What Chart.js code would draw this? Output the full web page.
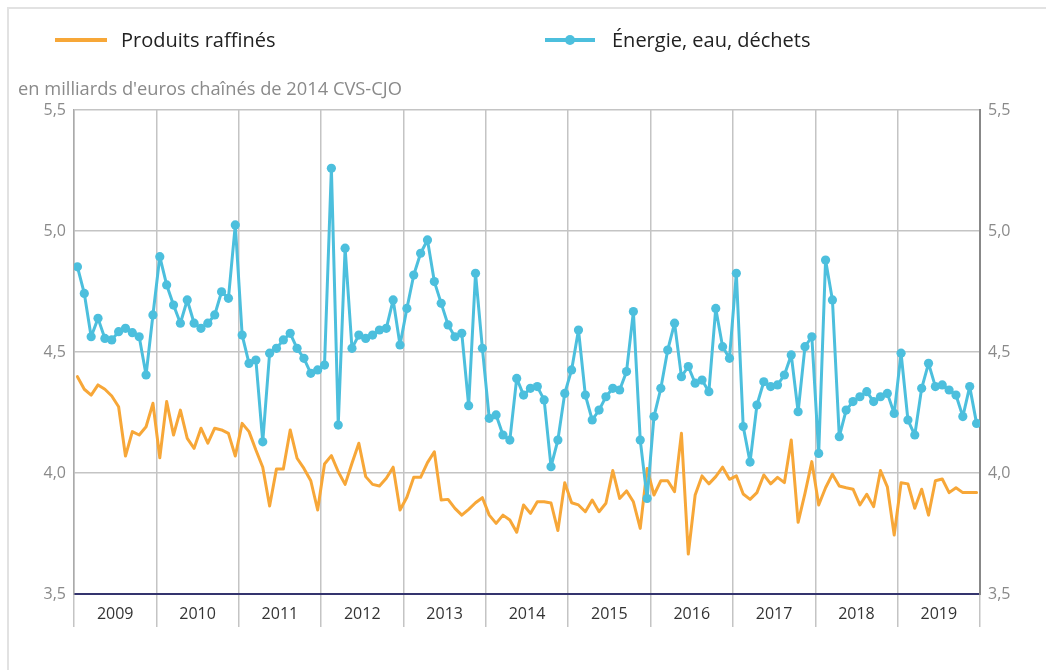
<!DOCTYPE html>
<html><head><meta charset="utf-8">
<script src="https://cdn.jsdelivr.net/npm/chart.js@4/dist/chart.umd.min.js"></script>
<style>
html,body{margin:0;padding:0;background:#fff;}
body{width:1046px;height:670px;position:relative;overflow:hidden;font-family:"Open Sans",sans-serif;}
#frame{position:absolute;left:7px;top:7px;width:1100px;height:700px;border-top:2px solid #e2e2e2;border-left:2px solid #e2e2e2;}
canvas{position:absolute;left:0;top:0;}
.legtxt{position:absolute;top:27px;height:26px;line-height:26px;font-size:20px;color:#222;white-space:nowrap;}
.legline{position:absolute;top:38px;height:4px;}
.legdot{position:absolute;top:35px;width:10px;height:10px;border-radius:50%;}
#ytitle{position:absolute;left:18px;top:76px;line-height:24px;font-size:18.3px;color:#8a8a8a;white-space:nowrap;}
</style></head>
<body>
<div id="frame"></div>
<canvas id="c" width="1046" height="670"></canvas>
<div class="legline" style="left:55px;width:52px;background:#f7a738"></div>
<div class="legtxt" style="left:121px">Produits raffinés</div>
<div class="legline" style="left:545px;width:50px;background:#4cbfdd"></div>
<div class="legdot" style="left:565px;background:#4cbfdd"></div>
<div class="legtxt" style="left:612px">Énergie, eau, déchets</div>
<div id="ytitle">en milliards d'euros chaînés de 2014 CVS-CJO</div>
<script>
const years = ['2009','2010','2011','2012','2013','2014','2015','2016','2017','2018','2019'];
const yTicks = [3.5, 4.0, 4.5, 5.0, 5.5];

const raffines = [
  4.398, 4.346, 4.322, 4.364, 4.346, 4.318, 4.274, 4.070, 4.171, 4.157, 4.191, 4.288,
  4.063, 4.295, 4.157, 4.260, 4.143, 4.102, 4.185, 4.123, 4.185, 4.178, 4.164, 4.070,
  4.205, 4.171, 4.095, 4.024, 3.864, 4.017, 4.017, 4.178, 4.061, 4.019, 3.968, 3.847,
  4.037, 4.072, 4.005, 3.953, 4.040, 4.123, 3.985, 3.953, 3.946, 3.978, 4.024, 3.847,
  3.900, 3.982, 3.982, 4.043, 4.088, 3.888, 3.891, 3.854, 3.826, 3.850, 3.877, 3.898,
  3.826, 3.792, 3.826, 3.806, 3.755, 3.868, 3.833, 3.881, 3.881, 3.876, 3.762, 3.960,
  3.877, 3.868, 3.840, 3.888, 3.840, 3.875, 4.010, 3.895, 3.926, 3.881, 3.771, 4.019,
  3.909, 3.968, 3.968, 3.923, 4.164, 3.665, 3.909, 3.988, 3.955, 3.985, 4.024, 3.974,
  3.988, 3.913, 3.891, 3.919, 3.992, 3.955, 3.982, 3.960, 4.136, 3.796, 3.916, 4.047,
  3.868, 3.939, 3.995, 3.946, 3.939, 3.933, 3.868, 3.912, 3.861, 4.010, 3.943, 3.744,
  3.960, 3.955, 3.854, 3.933, 3.826, 3.968, 3.975, 3.919, 3.939, 3.919, 3.919, 3.919
];

const energie = [
  4.852, 4.742, 4.563, 4.639, 4.556, 4.550, 4.584, 4.598, 4.580, 4.563, 4.405, 4.653,
  4.894, 4.777, 4.694, 4.619, 4.715, 4.619, 4.598, 4.619, 4.653, 4.749, 4.722, 5.025,
  4.570, 4.453, 4.467, 4.129, 4.495, 4.515, 4.550, 4.577, 4.515, 4.474, 4.412, 4.426,
  4.446, 5.259, 4.198, 4.929, 4.515, 4.570, 4.556, 4.570, 4.591, 4.598, 4.715, 4.529,
  4.680, 4.818, 4.908, 4.963, 4.791, 4.701, 4.612, 4.563, 4.577, 4.278, 4.825, 4.515,
  4.226, 4.240, 4.157, 4.136, 4.391, 4.322, 4.350, 4.357, 4.302, 4.026, 4.136, 4.329,
  4.426, 4.591, 4.322, 4.219, 4.260, 4.315, 4.350, 4.343, 4.419, 4.667, 4.136, 3.895,
  4.233, 4.350, 4.508, 4.619, 4.398, 4.440, 4.371, 4.384, 4.336, 4.680, 4.522, 4.474,
  4.825, 4.192, 4.045, 4.281, 4.377, 4.357, 4.364, 4.405, 4.488, 4.253, 4.522, 4.563,
  4.081, 4.880, 4.715, 4.150, 4.260, 4.295, 4.315, 4.336, 4.295, 4.315, 4.329, 4.246,
  4.495, 4.219, 4.157, 4.350, 4.453, 4.357, 4.364, 4.343, 4.322, 4.233, 4.357, 4.205
];

const MONTHS = years.length * 12;
const toPoints = arr => arr.map((v, i) => ({x: i + 0.5, y: v}));
const fmt = v => Number(v).toFixed(1).replace('.', ',');
const GRID = '#c4c4c4';
const NAVY = '#34346e';
const tickFont = {family: "'Open Sans', sans-serif", size: 16};

new Chart(document.getElementById('c'), {
  type: 'line',
  data: {
    datasets: [
      {label: 'Énergie, eau, déchets', data: toPoints(energie), borderColor: '#4cbfdd',
       backgroundColor: '#4cbfdd', pointBackgroundColor: '#4cbfdd', borderWidth: 3,
       borderJoinStyle: 'round', borderCapStyle: 'round',
       pointRadius: 4.6, pointBorderWidth: 0, tension: 0, order: 0, yAxisID: 'y'},
      {label: 'Produits raffinés', data: toPoints(raffines), borderColor: '#f7a738',
       backgroundColor: '#f7a738', borderWidth: 3, borderJoinStyle: 'round', borderCapStyle: 'round',
       pointRadius: 0, tension: 0, order: 1, yAxisID: 'y'}
    ]
  },
  options: {
    responsive: false, animation: false, events: [],
    layout: {padding: {top: 110, bottom: 43, left: 0, right: 0}},
    plugins: {legend: {display: false}, tooltip: {enabled: false}, title: {display: false}},
    scales: {
      x: {
        type: 'linear', position: 'bottom', min: 0, max: MONTHS,
        afterBuildTicks(a) { a.ticks = []; for (let v = 0; v <= MONTHS; v += 6) a.ticks.push({value: v}); },
        afterFit(a) { a.height = 33; },
        ticks: {autoSkip: false, maxRotation: 0, minRotation: 0, padding: -22, font: tickFont, color: '#333',
          callback(v) { return v % 12 === 6 ? years[(v - 6) / 12] : ''; }},
        grid: {color: c => (c.tick && c.tick.value % 12 === 0) ? GRID : 'rgba(0,0,0,0)',
               lineWidth: 1.5, tickLength: 33, drawTicks: true},
        border: {display: true, color: NAVY, width: 2}
      },
      y: {
        position: 'left', min: 3.5, max: 5.5,
        afterBuildTicks(a) { a.ticks = yTicks.map(v => ({value: v})); },
        afterFit(a) { a.width = 74; },
        ticks: {padding: 8, font: tickFont, color: '#8a8a8a', callback: fmt},
        grid: {color: c => (c.tick && c.tick.value === 3.5) ? NAVY : GRID, lineWidth: c => (c.tick && c.tick.value === 3.5) ? 2 : 1.5, drawTicks: false},
        border: {display: true, color: '#aaaaaa', width: 1.5}
      },
      y2: {
        position: 'right', min: 3.5, max: 5.5,
        afterBuildTicks(a) { a.ticks = yTicks.map(v => ({value: v})); },
        afterFit(a) { a.width = 66; },
        ticks: {padding: 8, font: tickFont, color: '#8a8a8a', callback: fmt},
        grid: {display: false, drawTicks: false},
        border: {display: true, color: '#888888', width: 2}
      }
    }
  }
});
</script>
</body></html>
